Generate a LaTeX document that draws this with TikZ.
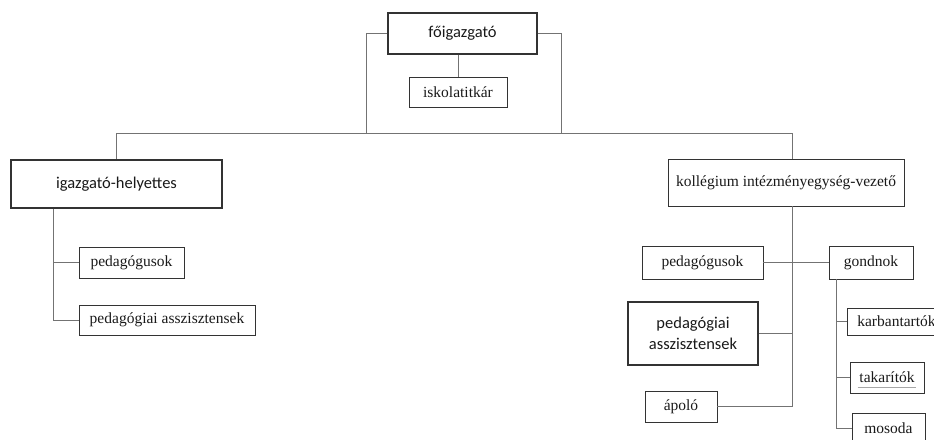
\documentclass[tikz,border=0pt]{standalone}
\usepackage{fontspec}
\setmainfont{Liberation Serif}
\newfontfamily\sansf{Carlito}
\begin{document}
\begin{tikzpicture}[x=1pt,y=-1pt,
  box/.style={draw=black!80, line width=0.7pt, rectangle, inner sep=0pt, align=center,
              font=\fontsize{15.5}{17}\selectfont, text=black!90},
  bbox/.style={box, line width=1.3pt, font=\sansf\fontsize{16.5}{20}\selectfont},
  conn/.style={draw=black!55, line width=0.6pt}]
\useasboundingbox (0,0) rectangle (934,439);
\clip (0,0) rectangle (934,439);
% nodes
\node[bbox, minimum width=149pt, minimum height=41pt] (fo) at (462.5,33.5) {főigazgató};
\node[box, minimum width=98pt, minimum height=30pt] (isk) at (458,92) {iskolatitkár};
\node[bbox, minimum width=211pt, minimum height=48pt] (igh) at (116.5,184) {igazgató-helyettes};
\node[box, minimum width=105pt, minimum height=31pt] (lped) at (131.5,262.5) {pedagógusok};
\node[box, minimum width=176pt, minimum height=30pt] (lasz) at (167,320) {pedagógiai asszisztensek};
\node[box, minimum width=236pt, minimum height=47pt] (kol) at (786,182.5) {\raisebox{3.5pt}{kollégium intézményegység-vezető}};
\node[box, minimum width=121pt, minimum height=33pt] (rped) at (702.5,262.5) {pedagógusok};
\node[box, minimum width=84pt, minimum height=33pt] (gond) at (871,262.5) {gondnok};
\node[bbox, minimum width=130pt, minimum height=63pt, font=\sansf\fontsize{16.5}{21}\selectfont] (rasz) at (693,333.5) {pedagógiai\\asszisztensek};
\node[box, minimum width=72pt, minimum height=31pt] (apolo) at (681,406.5) {ápoló};
\node[box, minimum width=100pt, minimum height=27pt, anchor=west, text width=96pt, align=left] (karb) at (847,321.5) {\hspace*{8pt}karbantartók};
\node[box, minimum width=74pt, minimum height=31pt] (tak) at (887,377.5) {takarítók};
\node[box, minimum width=73pt, minimum height=31pt] (mos) at (888.5,428.5) {mosoda};
\draw[line width=0.5pt, black!35] ([xshift=8pt,yshift=6pt]tak.south west) -- ([xshift=-8pt,yshift=6pt]tak.south east);
% coordinates
\coordinate (hL) at (366,133);
\coordinate (hR) at (561,133);
\coordinate (hA) at (116.5,133);
\coordinate (kv) at (792,133);
\coordinate (lb) at (53,320);
\coordinate (gv) at (836,300);
% connectors
\draw[conn] (fo.west) -| (hL);
\draw[conn] (fo.east) -| (hR);
\draw[conn] (fo.south -| isk.north) -- (isk.north);
\draw[conn] (hA) -- (kv);
\draw[conn] (hA) -- (igh.north);
\draw[conn] (kv) -- (kv |- kol.north);
\draw[conn] (igh.south -| lb) |- (lasz.west);
\draw[conn] (lped.west) -- (lped.west -| lb);
\draw[conn] (kol.south -| kv) |- (apolo.east);
\draw[conn] (rped.east) -- (gond.west);
\draw[conn] (rasz.east) -- (rasz.east -| kv);
\draw[conn] (gond.south -| gv) |- (mos.west);
\draw[conn] (karb.west) -- (karb.west -| gv);
\draw[conn] (tak.west) -- (tak.west -| gv);
\end{tikzpicture}
\end{document}
